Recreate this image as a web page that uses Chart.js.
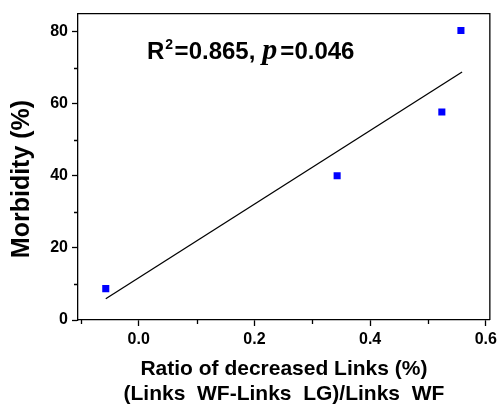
<!DOCTYPE html>
<html><head><meta charset="utf-8">
<script src="https://cdn.jsdelivr.net/npm/chart.js@4/dist/chart.umd.min.js"></script>
<style>html,body{margin:0;padding:0;background:#fff}#wrap{width:501px;height:404px}</style>
</head><body><div id="wrap"><canvas id="c" width="501" height="404"></canvas></div>
<script>
// Data
const ratioX = [-0.057, 0.343, 0.524, 0.557];
const morbidityY = [8.7, 40.0, 57.7, 80.3];
const fitLineX = [-0.057, 0.559];
const fitLineY = [5.9, 68.8];
const xTicks = [0.0, 0.2, 0.4, 0.6];
const xMinorTicks = [-0.1, 0.1, 0.3, 0.5];
const yTicks = [0, 20, 40, 60, 80];
const yMinorTicks = [10, 30, 50, 70];
const xTitleLines = ['Ratio of decreased Links (%)', '(Links  WF-Links  LG)/Links  WF'];
const yTitleText = 'Morbidity (%)';

const SANS = '"Liberation Sans", Arial, sans-serif';

const extras = {
  id: 'extras',
  afterDraw(chart) {
    const ctx = chart.ctx, a = chart.chartArea;
    const xs = chart.scales.x, ys = chart.scales.y;
    ctx.save();
    ctx.strokeStyle = '#000'; ctx.lineWidth = 1.3;
    // frame top & right
    ctx.beginPath();
    ctx.moveTo(a.left, a.top); ctx.lineTo(a.right, a.top); ctx.lineTo(a.right, a.bottom);
    ctx.stroke();
    // minor ticks
    ctx.beginPath();
    xMinorTicks.forEach(v => { const px = Math.round(xs.getPixelForValue(v)) + 0.5; ctx.moveTo(px, a.bottom); ctx.lineTo(px, a.bottom + 4); });
    yMinorTicks.forEach(v => { const py = Math.round(ys.getPixelForValue(v)) + 0.5; ctx.moveTo(a.left, py); ctx.lineTo(a.left - 4, py); });
    ctx.stroke();
    // y title
    ctx.fillStyle = '#000';
    ctx.translate(22, 179);
    ctx.rotate(-Math.PI / 2);
    ctx.font = 'bold 25px ' + SANS;
    ctx.textAlign = 'center'; ctx.textBaseline = 'middle';
    ctx.fillText(yTitleText, 0, 0);
    ctx.restore();
    // annotation
    ctx.save();
    ctx.fillStyle = '#000';
    ctx.textBaseline = 'alphabetic'; ctx.textAlign = 'left';
    let x = 147; const base = 59;
    ctx.font = 'bold 24px ' + SANS;
    ctx.fillText('R', x, base); x += ctx.measureText('R').width + 1;
    ctx.font = 'bold 14px ' + SANS;
    ctx.fillText('2', x, base - 10); x += ctx.measureText('2').width + 1.5;
    ctx.font = 'bold 24px ' + SANS;
    ctx.fillText('=0.865,', x, base); x += ctx.measureText('=0.865,').width + 7;
    ctx.font = 'bold italic 30px "Liberation Serif", "Times New Roman", serif';
    ctx.fillText('p', x, base); x += ctx.measureText('p').width + 3;
    ctx.font = 'bold 24px ' + SANS;
    ctx.fillText('=0.046', x, base);
    ctx.restore();
  }
};

new Chart(document.getElementById('c'), {
  type: 'scatter',
  data: {
    datasets: [
      {
        label: 'Morbidity',
        data: ratioX.map((v, i) => ({ x: v, y: morbidityY[i] })),
        pointStyle: 'rect', pointRadius: 5, pointHoverRadius: 5,
        backgroundColor: '#0000ff', borderColor: '#0000ff', borderWidth: 0,
        order: 1
      },
      {
        label: 'Fit',
        type: 'line',
        data: fitLineX.map((v, i) => ({ x: v, y: fitLineY[i] })),
        borderColor: '#000', borderWidth: 1.3, pointRadius: 0, fill: false,
        order: 2
      }
    ]
  },
  options: {
    responsive: false, animation: false,
    layout: { padding: { left: 0, top: 12, right: 8, bottom: 0 } },
    plugins: { legend: { display: false }, tooltip: { enabled: false } },
    scales: {
      x: {
        type: 'linear', min: -0.105, max: 0.607,
        afterBuildTicks: s => { s.ticks = xTicks.map(v => ({ value: v })); },
        afterFit: s => { s.height = 84; },
        grid: { drawOnChartArea: false, drawTicks: true, tickLength: 6, tickColor: '#000', tickWidth: 1.3 },
        border: { display: true, color: '#000', width: 1.3 },
        ticks: { color: '#000', font: { family: SANS, size: 16, weight: 'bold' }, padding: 4,
                 callback: v => Number(v).toFixed(1), maxRotation: 0 },
        title: { display: true, text: xTitleLines, color: '#000',
                 font: { family: SANS, size: 21, weight: 'bold', lineHeight: 1.2 }, padding: { top: 0, bottom: -3 } }
      },
      y: {
        type: 'linear', min: 0, max: 85,
        afterBuildTicks: s => { s.ticks = yTicks.map(v => ({ value: v })); },
        afterFit: s => { s.width = 78; },
        grid: { drawOnChartArea: false, drawTicks: true, tickLength: 6, tickColor: '#000', tickWidth: 1.3 },
        border: { display: true, color: '#000', width: 1.3 },
        ticks: { color: '#000', font: { family: SANS, size: 16, weight: 'bold' }, padding: 4 },
        title: { display: false }
      }
    }
  },
  plugins: [extras]
});
</script>
</body></html>
